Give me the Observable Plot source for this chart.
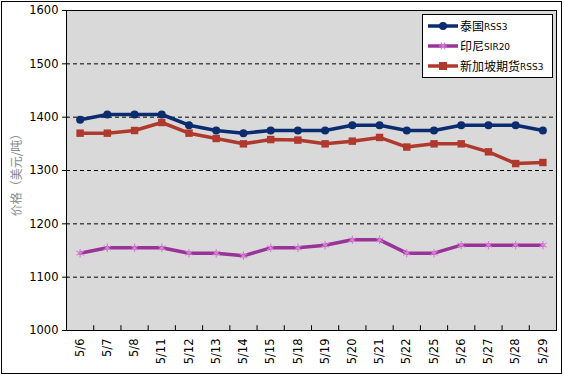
<!DOCTYPE html>
<html>
<head>
<meta charset="utf-8">
<script src="https://cdn.jsdelivr.net/npm/d3@7"></script>
<script src="https://cdn.jsdelivr.net/npm/@observablehq/plot@0.6"></script>
<style>
  html, body { margin: 0; padding: 0; background: #fff; }
  #wrap { position: relative; width: 564px; height: 377px; overflow: hidden; }
  #outer { position: absolute; left: 1px; top: 1px; width: 561px; height: 373px; border: 1px solid #000; box-sizing: border-box; pointer-events: none; }
  #legend { position: absolute; left: 422px; top: 14px; width: 131px; height: 64px; box-sizing: border-box; border: 1px solid #000; background: #fff; font-family: "Noto Sans CJK SC", sans-serif; }
  .row { position: absolute; left: 5px; height: 16px; display: flex; align-items: center; }
  .row svg { margin-right: 2px; }
  .zh { font-size: 12px; line-height: 16px; color: #000; }
  .en { font-size: 9px; line-height: 16px; font-family: "DejaVu Sans", sans-serif; color: #000; padding-top: 1px; }
  #ylabel { position: absolute; left: 15px; top: 172px; transform: translate(-50%, -50%) rotate(-90deg); white-space: nowrap; font-family: "Noto Sans CJK SC", sans-serif; font-size: 12px; color: #8c8c8c; }
</style>
</head>
<body>
<div id="wrap"></div>
<script>
const dates = ["5/6","5/7","5/8","5/11","5/12","5/13","5/14","5/15","5/18","5/19","5/20","5/21","5/22","5/25","5/26","5/27","5/28","5/29"];
const thaiRSS3 = [1395,1405,1405,1405,1385,1375,1370,1375,1375,1375,1385,1385,1375,1375,1385,1385,1385,1375];
const indoSIR20 = [1145,1155,1155,1155,1145,1145,1140,1155,1155,1160,1170,1170,1145,1145,1160,1160,1160,1160];
const sgxRSS3 = [1370,1370,1375,1390,1370,1360,1350,1358,1357,1350,1355,1362,1344,1350,1350,1335,1313,1315];
const yTicks = [1000,1100,1200,1300,1400,1500,1600];
const gridLines = [1100,1200,1300,1400,1500];
const seriesNames = ["泰国RSS3","印尼SIR20","新加坡期货RSS3"];
const colors = ["#0b2c6e","#993399","#b0392e"];

const idx = dates.map((d, i) => i);
const boundaries = dates.slice(1).map((d, i) => i + 0.5);
const mk = (vals) => vals.map((v, i) => ({i, v}));
const thai = mk(thaiRSS3), indo = mk(indoSIR20), sgx = mk(sgxRSS3);

const chart = Plot.plot({
  width: 564,
  height: 377,
  marginLeft: 66,
  marginRight: 8,
  marginTop: 10,
  marginBottom: 47,
  style: {fontFamily: "DejaVu Sans, sans-serif", fontSize: "11.5px", color: "#000", background: "transparent"},
  x: {type: "linear", domain: [-0.5, dates.length - 0.5]},
  y: {domain: [1000, 1600]},
  marks: [
    Plot.frame({fill: "#d9d9d9"}),
    Plot.ruleY(gridLines, {stroke: "#000", strokeDasharray: "4,3", strokeWidth: 1}),
    Plot.ruleX(boundaries, {y1: 1000, y2: 1009, stroke: "#000", strokeWidth: 1}),
    Plot.line(indo, {x: "i", y: "v", stroke: colors[1], strokeWidth: 3.5}),
    Plot.dot(indo, {x: "i", y: "v", symbol: "asterisk", r: 4, stroke: "#d77fd7", strokeWidth: 1.2}),
    Plot.line(sgx, {x: "i", y: "v", stroke: colors[2], strokeWidth: 3.5}),
    Plot.dot(sgx, {x: "i", y: "v", symbol: "square", r: 4.2, fill: colors[2]}),
    Plot.line(thai, {x: "i", y: "v", stroke: colors[0], strokeWidth: 3.5}),
    Plot.dot(thai, {x: "i", y: "v", symbol: "circle", r: 4, fill: colors[0]}),
    Plot.axisY(yTicks, {tickSize: 4, tickPadding: 4, label: null, fontSize: 11.5, tickFormat: d => String(d)}),
    Plot.axisX(idx, {tickSize: 0, tickPadding: 8, tickRotate: -90, tickFormat: d => dates[d], label: null, fontSize: 11.5}),
    Plot.frame({stroke: "#000", strokeWidth: 1})
  ]
});

const wrap = document.getElementById("wrap");
wrap.appendChild(chart);

const yl = document.createElement("div");
yl.id = "ylabel";
yl.textContent = "价格（美元/吨）";
wrap.appendChild(yl);

const lg = document.createElement("div");
lg.id = "legend";
const rowTops = [3, 23, 43];
const syms = ["circle", "asterisk", "square"];
seriesNames.forEach((name, k) => {
  const row = document.createElement("div");
  row.className = "row";
  row.style.top = rowTops[k] + "px";
  let marker = "";
  if (syms[k] === "circle") marker = `<circle cx="15" cy="8" r="4" fill="${colors[k]}"/>`;
  if (syms[k] === "square") marker = `<rect x="11" y="4" width="8" height="8" fill="${colors[k]}"/>`;
  if (syms[k] === "asterisk") marker = `<g stroke="#d77fd7" stroke-width="1.2"><line x1="11" y1="8" x2="19" y2="8"/><line x1="13" y1="4.5" x2="17" y2="11.5"/><line x1="13" y1="11.5" x2="17" y2="4.5"/></g>`;
  const m = name.match(/^([^A-Z0-9]+)([A-Z0-9]+)$/);
  row.innerHTML = `<svg width="30" height="16"><line x1="0" y1="8" x2="30" y2="8" stroke="${colors[k]}" stroke-width="3.5"/>${marker}</svg><span class="zh">${m[1]}</span><span class="en">${m[2]}</span>`;
  lg.appendChild(row);
});
wrap.appendChild(lg);

const outer = document.createElement("div");
outer.id = "outer";
wrap.appendChild(outer);
</script>
</body>
</html>
